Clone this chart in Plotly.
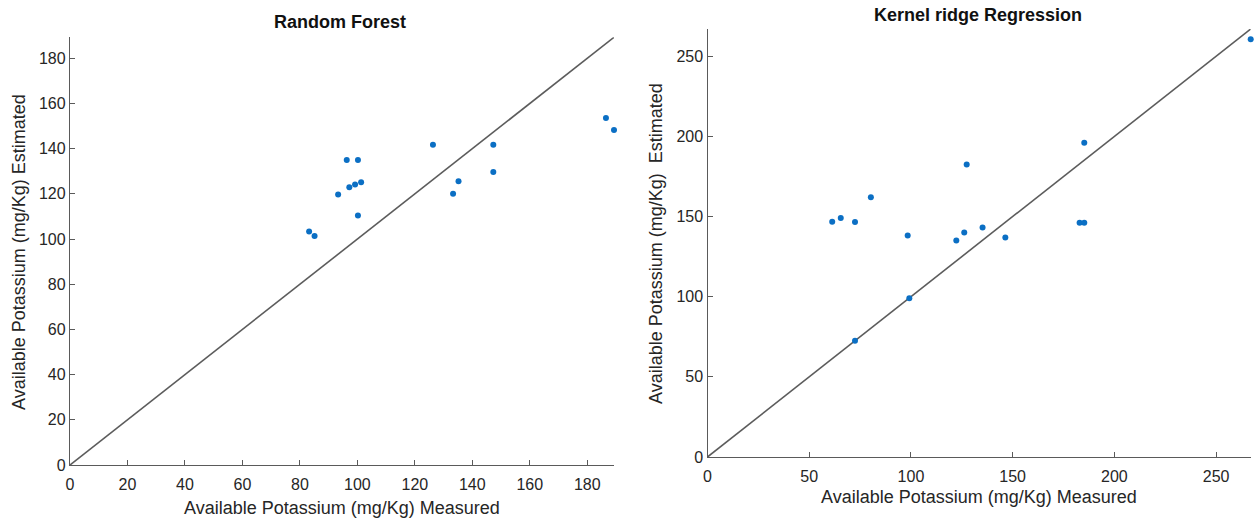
import plotly.graph_objects as go

# ---- data ----
rf_measured = [83.2, 85.1, 93.3, 96.3, 100.2, 97.2, 99.2, 101.3, 100.2, 126.3, 133.3, 135.2, 147.3, 147.3, 186.5, 189.3]
rf_estimated = [103.3, 101.4, 119.7, 135.0, 135.0, 122.9, 124.1, 125.1, 110.4, 141.7, 120.0, 125.6, 141.7, 129.7, 153.6, 148.3]

krr_measured = [61.3, 65.5, 72.5, 80.3, 98.4, 99.2, 72.5, 127.4, 122.3, 126.2, 135.2, 146.4, 182.9, 185.2, 185.2, 267.0]
krr_estimated = [146.8, 149.1, 146.6, 162.0, 138.2, 99.1, 72.5, 182.4, 135.1, 140.1, 143.2, 137.0, 146.2, 146.2, 196.1, 260.6]

rf_max = 189.3
krr_max = 267.0
rf_ticks = [0, 20, 40, 60, 80, 100, 120, 140, 160, 180]
krr_ticks = [0, 50, 100, 150, 200, 250]

titles = ["Random Forest", "Kernel ridge Regression"]
xlabel = "Available Potassium (mg/Kg) Measured"
ylabels = ["Available Potassium (mg/Kg) Estimated", "Available Potassium (mg/Kg)  Estimated"]

W, H = 1254, 522
FONT = "Liberation Sans, Arial, sans-serif"
TXT = "#262626"
AX = "#5a5a5a"
DOT = "#0b6fc4"

fig = go.Figure()

# diagonal lines
fig.add_trace(go.Scatter(x=[0, rf_max], y=[0, rf_max], mode="lines",
                         line=dict(color="#5c5c5c", width=1.6), xaxis="x", yaxis="y",
                         showlegend=False, hoverinfo="skip"))
fig.add_trace(go.Scatter(x=[0, krr_max], y=[0, krr_max], mode="lines",
                         line=dict(color="#5c5c5c", width=1.6), xaxis="x2", yaxis="y2",
                         showlegend=False, hoverinfo="skip"))
# points
fig.add_trace(go.Scatter(x=rf_measured, y=rf_estimated, mode="markers",
                         marker=dict(color=DOT, size=6), xaxis="x", yaxis="y",
                         showlegend=False, cliponaxis=False))
fig.add_trace(go.Scatter(x=krr_measured, y=krr_estimated, mode="markers",
                         marker=dict(color=DOT, size=6), xaxis="x2", yaxis="y2",
                         showlegend=False, cliponaxis=False))

def dom(a, b, total):
    return [a / total, b / total]

# pixel layout
L = dict(x0=70, x1=614, ytop=37.3, ybot=465)
R = dict(x0=707.5, x1=1250.7, ytop=29, ybot=457)

common = dict(showline=True, linecolor=AX, linewidth=1.3, ticks="inside", ticklen=5,
              tickcolor=AX, tickwidth=1.2, showgrid=False, zeroline=False, mirror=False,
              tickfont=dict(family=FONT, size=16, color=TXT))

fig.update_layout(
    width=W, height=H, margin=dict(l=0, r=0, t=0, b=0, autoexpand=False),
    paper_bgcolor="white", plot_bgcolor="white",
    xaxis=dict(domain=dom(L["x0"], L["x1"], W), range=[0, rf_max], tickvals=rf_ticks,
               anchor="y", ticklabelstandoff=5, **common),
    yaxis=dict(domain=[(H - L["ybot"]) / H, (H - L["ytop"]) / H], range=[0, rf_max],
               tickvals=rf_ticks, anchor="x", **common),
    xaxis2=dict(domain=dom(R["x0"], R["x1"], W), range=[0, krr_max], tickvals=krr_ticks,
                anchor="y2", ticklabelstandoff=5, **common),
    yaxis2=dict(domain=[(H - R["ybot"]) / H, (H - R["ytop"]) / H], range=[0, krr_max],
                tickvals=krr_ticks, anchor="x2", **common),
)

ann = []
# titles
ann.append(dict(text="<b>" + titles[0] + "</b>", x=340 / W, y=1 - 22 / H))
ann.append(dict(text="<b>" + titles[1] + "</b>", x=978 / W, y=1 - 15 / H))
for a in ann:
    a.update(xref="paper", yref="paper", showarrow=False, xanchor="center", yanchor="middle",
             font=dict(family=FONT, size=18, color="#111111"))
# x labels
ann.append(dict(text=xlabel, x=342 / W, y=1 - 508 / H, xref="paper", yref="paper",
                showarrow=False, xanchor="center", yanchor="middle",
                font=dict(family=FONT, size=18, color=TXT)))
ann.append(dict(text=xlabel, x=979 / W, y=1 - 497 / H, xref="paper", yref="paper",
                showarrow=False, xanchor="center", yanchor="middle",
                font=dict(family=FONT, size=18, color=TXT)))
# y labels
ann.append(dict(text=ylabels[0], x=19 / W, y=1 - 252 / H, xref="paper", yref="paper",
                showarrow=False, xanchor="center", yanchor="middle", textangle=-90,
                font=dict(family=FONT, size=18, color=TXT)))
ann.append(dict(text=ylabels[1], x=656 / W, y=1 - 244 / H, xref="paper", yref="paper",
                showarrow=False, xanchor="center", yanchor="middle", textangle=-90,
                font=dict(family=FONT, size=18, color=TXT)))
fig.update_layout(annotations=ann)

fig.write_html("out.html")
